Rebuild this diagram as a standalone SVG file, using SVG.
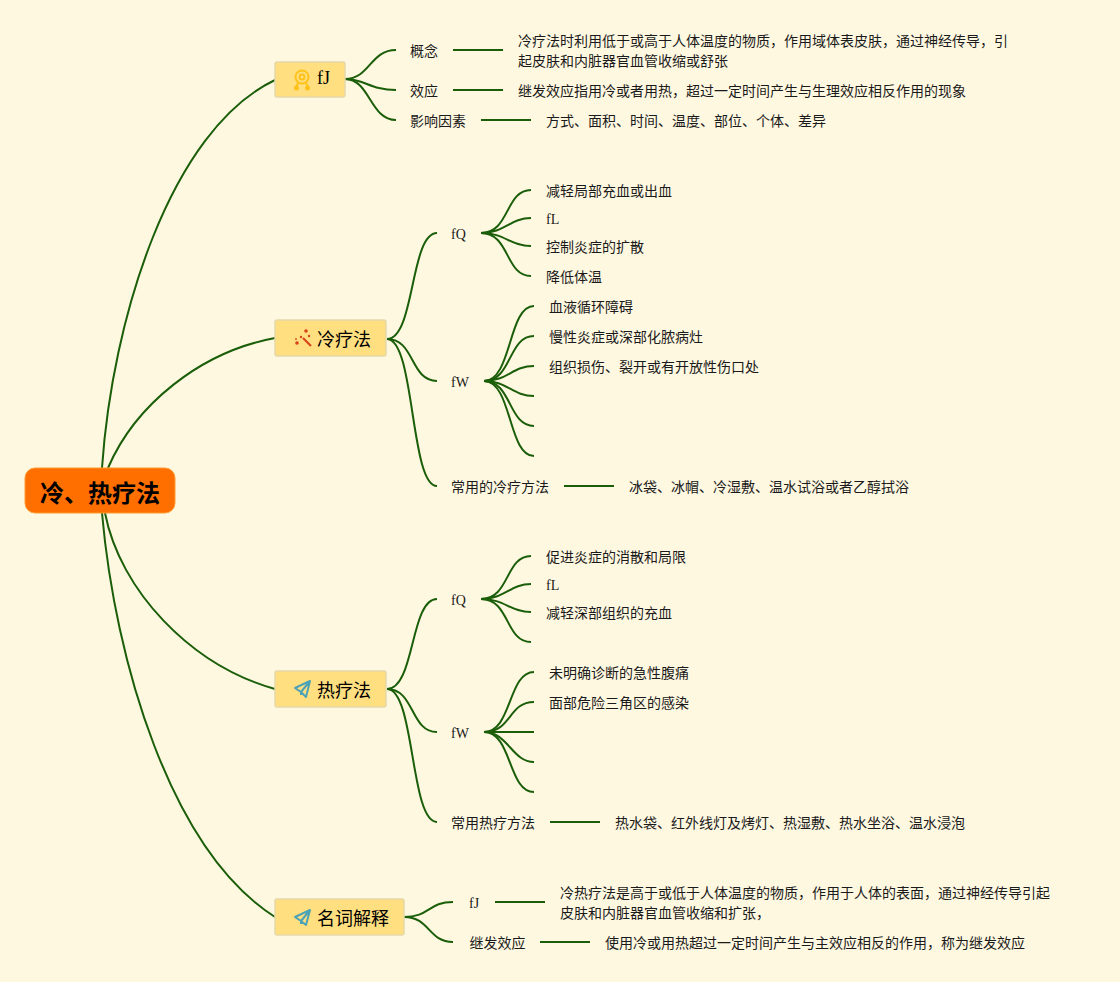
<svg xmlns="http://www.w3.org/2000/svg" width="1120" height="982" viewBox="0 0 1120 982">
<style>
text{font-family:"Liberation Serif","Noto Sans CJK SC",serif;font-size:14px;fill:#1a1a1a}
.m text{font-size:18px;fill:#000}
.root{fill:#ff6f00;stroke:#ff9a30;stroke-width:1}
.tb{fill:#ffdf80;stroke:#e6d8a8;stroke-width:1.500}
#connectors path{fill:none;stroke:#1b5e0a;stroke-width:2;stroke-linecap:butt}
</style>
<rect width="1120" height="982" fill="#fff8e1"/>
<g id="connectors">
<path d="M102 468C112 320 170 130 275 80"/>
<path d="M108 468C135 405 200 352 275 338"/>
<path d="M105 513C120 590 190 665 275 689"/>
<path d="M102 513C115 660 170 850 275 917"/>
<path d="M345 79C370 79 370 50 396 50"/><path d="M345 79C365 79 370 90 396 90"/><path d="M345 79C370 79 370 120 396 120"/>
<path d="M453 50H503"/><path d="M453 90H503"/><path d="M481 120H531"/>
<path d="M387 339C415 339 410 233 437 233"/><path d="M387 339C415 339 410 381 437 381"/><path d="M387 339C415 339 410 486 437 486"/>
<path d="M481 233C510 233 505 190 531 190"/><path d="M481 233C505 233 510 218 531 218"/><path d="M481 233C505 233 510 246 531 246"/><path d="M481 233C510 233 505 276 531 276"/>
<path d="M484 381C512 381 508 306 534 306"/><path d="M484 381C512 381 508 336 534 336"/><path d="M484 381C508 381 512 366 534 366"/><path d="M484 381C508 381 512 396 534 396"/><path d="M484 381C512 381 508 426 534 426"/><path d="M484 381C512 381 508 456 534 456"/>
<path d="M564 486H614"/>
<path d="M387 689C415 689 410 599 437 599"/><path d="M387 689C415 689 410 732 437 732"/><path d="M387 689C415 689 410 822 437 822"/>
<path d="M481 599C510 599 505 556 531 556"/><path d="M481 599C505 599 510 584 531 584"/><path d="M481 599C505 599 510 612 531 612"/><path d="M481 599C510 599 505 642 531 642"/>
<path d="M484 732C512 732 508 672 534 672"/><path d="M484 732C512 732 508 702 534 702"/><path d="M484 732H534"/><path d="M484 732C508 732 512 762 534 762"/><path d="M484 732C512 732 508 792 534 792"/>
<path d="M550 822H600"/>
<path d="M404 917C430 917 428 902 453 902"/><path d="M404 917C430 917 428 942 453 942"/>
<path d="M495 902H545"/><path d="M540 942H590"/>
</g>
<g id="root"><rect class="root" x="25" y="468" width="150" height="45" rx="10"/><text x="100" y="502" text-anchor="middle" style="font-size:24px;font-weight:700;fill:#000">冷、热疗法</text></g>
<g id="n1" class="m"><rect class="tb" x="275" y="62" width="70" height="35" rx="2"/>
<g fill="none" stroke="#ffc21a" stroke-width="2"><circle cx="302" cy="77" r="6.500"/><circle cx="302" cy="77" r="2.500"/><path d="M298 83L296 87M306 83L308 87"/></g>
<g fill="#ffc21a"><circle cx="296.500" cy="88" r="2.500"/><circle cx="307.500" cy="88" r="2.500"/></g>
<text x="317" y="84">fJ</text></g>
<g id="n2" class="m"><rect class="tb" x="275" y="320" width="111" height="36" rx="2"/>
<path d="M303 338L311 346" fill="none" stroke="#d8431a" stroke-width="2.200"/>
<g fill="#d8431a"><circle cx="297" cy="343" r="1.800"/><circle cx="306" cy="331" r="1.800"/><circle cx="301" cy="337" r="1.200"/><circle cx="309" cy="336" r="1.200"/><circle cx="296" cy="339" r="0.900"/></g>
<text x="317" y="346">冷疗法</text></g>
<g id="n3" class="m"><rect class="tb" x="275" y="671" width="111" height="36" rx="2"/>
<g fill="none" stroke="#4ba3b5" stroke-width="2" stroke-linejoin="round"><path d="M295 688L310 681L306 697L301 692L295 688L310 681L301 692V695"/></g>
<text x="317" y="697">热疗法</text></g>
<g id="n4" class="m"><rect class="tb" x="275" y="899" width="129" height="36" rx="2"/>
<g fill="none" stroke="#4ba3b5" stroke-width="2" stroke-linejoin="round"><path d="M295 917L310 910L306 925L301 921L295 917L310 910L301 921V924"/></g>
<text x="317" y="925">名词解释</text></g>
<g id="a1"><text x="410" y="56">概念</text></g>
<g id="a2"><text x="410" y="96">效应</text></g>
<g id="a3"><text x="410" y="126">影响因素</text></g>
<g id="a1d"><text x="518" y="46">冷疗法时利用低于或高于人体温度的物质，作用域体表皮肤，通过神经传导，引</text><text x="518" y="66">起皮肤和内脏器官血管收缩或舒张</text></g>
<g id="a2d"><text x="518" y="96">继发效应指用冷或者用热，超过一定时间产生与生理效应相反作用的现象</text></g>
<g id="a3d"><text x="546" y="126">方式、面积、时间、温度、部位、个体、差异</text></g>
<g id="b1"><text x="451" y="239">fQ</text></g>
<g id="b11"><text x="546" y="196">减轻局部充血或出血</text></g>
<g id="b12"><text x="546" y="224">fL</text></g>
<g id="b13"><text x="546" y="252">控制炎症的扩散</text></g>
<g id="b14"><text x="546" y="282">降低体温</text></g>
<g id="b2"><text x="451" y="387">fW</text></g>
<g id="b21"><text x="549" y="312">血液循环障碍</text></g>
<g id="b22"><text x="549" y="342">慢性炎症或深部化脓病灶</text></g>
<g id="b23"><text x="549" y="372">组织损伤、裂开或有开放性伤口处</text></g>
<g id="b3"><text x="451" y="492">常用的冷疗方法</text></g>
<g id="b3d"><text x="629" y="492">冰袋、冰帽、冷湿敷、温水试浴或者乙醇拭浴</text></g>
<g id="c1"><text x="451" y="605">fQ</text></g>
<g id="c11"><text x="546" y="562">促进炎症的消散和局限</text></g>
<g id="c12"><text x="546" y="590">fL</text></g>
<g id="c13"><text x="546" y="618">减轻深部组织的充血</text></g>
<g id="c2"><text x="451" y="738">fW</text></g>
<g id="c21"><text x="549" y="678">未明确诊断的急性腹痛</text></g>
<g id="c22"><text x="549" y="708">面部危险三角区的感染</text></g>
<g id="c3"><text x="451" y="828">常用热疗方法</text></g>
<g id="c3d"><text x="615" y="828">热水袋、红外线灯及烤灯、热湿敷、热水坐浴、温水浸泡</text></g>
<g id="d1"><text x="469" y="908">fJ</text></g>
<g id="d1d"><text x="560" y="898">冷热疗法是高于或低于人体温度的物质，作用于人体的表面，通过神经传导引起</text><text x="560" y="918">皮肤和内脏器官血管收缩和扩张，</text></g>
<g id="d2"><text x="469.500" y="948">继发效应</text></g>
<g id="d2d"><text x="605" y="948">使用冷或用热超过一定时间产生与主效应相反的作用，称为继发效应</text></g>
</svg>
